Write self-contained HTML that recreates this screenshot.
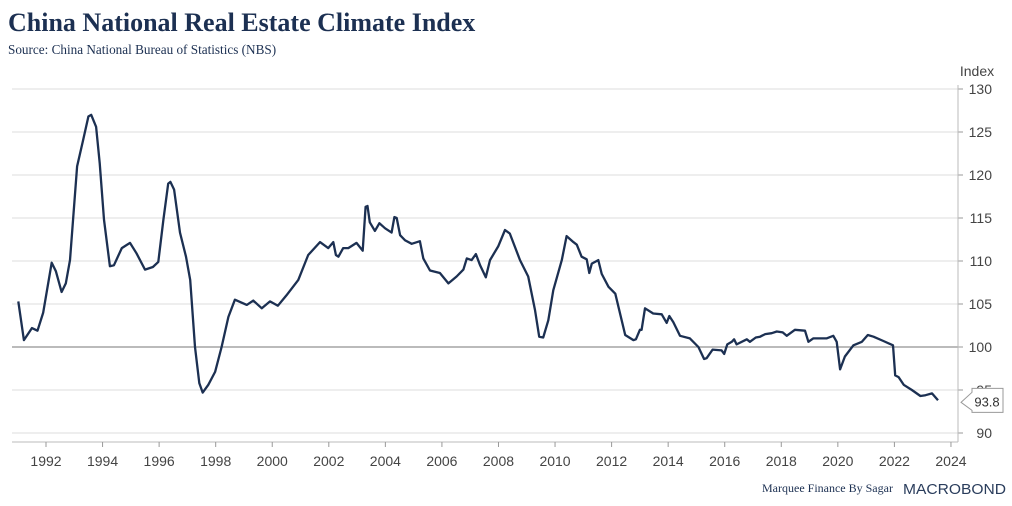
<!DOCTYPE html>
<html><head><meta charset="utf-8"><style>
body{margin:0;background:#fff;width:1012px;height:506px;overflow:hidden}
svg{display:block}
</style></head><body>
<svg width="1012" height="506" xmlns="http://www.w3.org/2000/svg">
<text x="8" y="31" font-family="Liberation Serif, serif" font-weight="bold" font-size="26" fill="#1c3052">China National Real Estate Climate Index</text>
<text x="8" y="54" font-family="Liberation Serif, serif" font-size="13.2" fill="#1c3052">Source: China National Bureau of Statistics (NBS)</text>
<text x="977" y="76" text-anchor="middle" font-family="Liberation Sans, sans-serif" font-size="14" fill="#444">Index</text>
<g id="grid"></g>
<g id="xaxis"></g>
<path id="line" fill="none" stroke="#1c3052" stroke-width="2.3" stroke-linejoin="round"/>
<g id="lastlabel"></g>
<text x="762" y="492" font-family="Liberation Serif, serif" font-size="12" fill="#1c3052">Marquee Finance By Sagar</text>
<text x="903" y="494" textLength="103" lengthAdjust="spacingAndGlyphs" font-family="Liberation Sans, sans-serif" font-size="15" fill="#2a3d5c">MACROBOND</text>
</svg>
<script>
const years=[1991.02,1991.22,1991.5,1991.7,1991.9,1992.2,1992.35,1992.55,1992.7,1992.85,1993.1,1993.3,1993.5,1993.6,1993.77,1993.9,1994.05,1994.26,1994.4,1994.68,1994.97,1995.2,1995.5,1995.78,1995.97,1996.15,1996.32,1996.4,1996.53,1996.74,1996.95,1997.1,1997.27,1997.42,1997.54,1997.74,1997.98,1998.21,1998.45,1998.68,1999.1,1999.33,1999.63,1999.92,2000.2,2000.5,2000.92,2001.27,2001.69,2001.98,2002.16,2002.25,2002.34,2002.51,2002.69,2002.98,2003.2,2003.3,2003.37,2003.45,2003.63,2003.79,2003.99,2004.22,2004.32,2004.4,2004.52,2004.7,2004.93,2005.22,2005.34,2005.58,2005.93,2006.23,2006.52,2006.76,2006.88,2007.05,2007.2,2007.35,2007.55,2007.7,2007.99,2008.23,2008.4,2008.76,2009.05,2009.29,2009.44,2009.58,2009.76,2009.94,2010.24,2010.41,2010.65,2010.77,2010.94,2011.12,2011.21,2011.3,2011.53,2011.65,2011.89,2012.13,2012.48,2012.77,2012.86,2013.0,2013.06,2013.18,2013.47,2013.77,2013.95,2014.04,2014.18,2014.42,2014.77,2015.07,2015.27,2015.36,2015.57,2015.89,2015.98,2016.09,2016.25,2016.33,2016.42,2016.78,2016.89,2017.1,2017.25,2017.43,2017.66,2017.84,2018.05,2018.19,2018.48,2018.84,2018.96,2019.13,2019.37,2019.6,2019.84,2019.96,2020.08,2020.25,2020.55,2020.85,2021.06,2021.26,2021.61,2021.95,2022.03,2022.15,2022.33,2022.62,2022.92,2023.1,2023.33,2023.54];
const values=[105.3,100.8,102.2,101.9,104,109.8,108.8,106.4,107.4,110.1,121,123.9,126.8,127,125.6,121.4,114.8,109.4,109.5,111.5,112.1,110.9,109,109.3,109.9,114.8,119,119.2,118.3,113.3,110.5,107.8,100,95.8,94.7,95.6,97.1,100,103.5,105.5,104.9,105.4,104.5,105.3,104.8,106,107.8,110.7,112.2,111.5,112.2,110.7,110.5,111.5,111.5,112.1,111.2,116.3,116.4,114.5,113.5,114.4,113.8,113.3,115.1,115,113,112.4,112,112.3,110.3,108.9,108.6,107.4,108.2,109,110.3,110.1,110.8,109.5,108.1,110.1,111.7,113.6,113.2,110.1,108.2,104.3,101.2,101.1,103.1,106.6,110.1,112.9,112.2,111.9,110.5,110.2,108.6,109.7,110.1,108.5,107,106.2,101.4,100.8,100.9,102,102,104.5,103.9,103.8,102.8,103.6,102.9,101.3,101,100,98.6,98.7,99.7,99.6,99.2,100.3,100.6,100.9,100.3,100.9,100.6,101.1,101.2,101.5,101.6,101.8,101.7,101.3,102,101.9,100.6,101,101,101,101.3,100.6,97.4,98.9,100.2,100.6,101.4,101.2,100.7,100.2,96.7,96.5,95.6,95,94.3,94.4,94.6,93.8];
const yTicks=[90,95,100,105,110,115,120,125,130];
const xTicks=[1992,1994,1996,1998,2000,2002,2004,2006,2008,2010,2012,2014,2016,2018,2020,2022,2024];
const lastLabel="93.8";
const NS="http://www.w3.org/2000/svg";
const X=y=>46+(y-1992)*28.28;
const Y=v=>347-(v-100)*8.6;
const L=12,R=958,B=442;
function mk(t,a,p){const e=document.createElementNS(NS,t);for(const k in a)e.setAttribute(k,a[k]);p.appendChild(e);return e;}
const grid=document.getElementById('grid');
yTicks.forEach(v=>{
  const gl=mk('line',{x1:L,x2:R,y1:Y(v),y2:Y(v),stroke:v===100?'#777':'#ddd','stroke-width':1},grid);
  
  
  const tk=mk('line',{x1:R,x2:R+5,y1:Y(v),y2:Y(v),stroke:'#999'},grid);
  
  
  const t=mk('text',{x:992,y:Y(v)+5,'text-anchor':'end','font-family':'Liberation Sans, sans-serif','font-size':14,fill:'#444'},grid);
  t.textContent=v;
  
  
});
const xa=document.getElementById('xaxis');
const ax=mk('line',{x1:L,x2:R,y1:B,y2:B,stroke:'#bbb'},xa);


const ay=mk('line',{x1:R,x2:R,y1:85,y2:B,stroke:'#bbb'},xa);


xTicks.forEach(y=>{
  const tk=mk('line',{x1:X(y),x2:X(y),y1:B,y2:B+5,stroke:'#999'},xa);
  
  
  const t=mk('text',{x:X(y),y:B+24,'text-anchor':'middle','font-family':'Liberation Sans, sans-serif','font-size':14,fill:'#444'},xa);
  t.textContent=y;
  
  
});
document.getElementById('line').setAttribute('d',years.map((y,i)=>(i?'L':'M')+X(y).toFixed(1)+','+Y(values[i]).toFixed(1)).join(''));
const lg=document.getElementById('lastlabel');
const ly=Y(values[values.length-1]);
const bx=mk('path',{d:`M961,${ly+2} L972,${ly-8} L972,${ly-12} L1003,${ly-12} L1003,${ly+12} L972,${ly+12} L972,${ly+10} Z`,fill:'#fff',stroke:'#999'},lg);


const lt=mk('text',{x:987,y:ly+6,'text-anchor':'middle','font-family':'Liberation Sans, sans-serif','font-size':13,fill:'#333'},lg);
lt.textContent=lastLabel;


</script>
</body></html>
